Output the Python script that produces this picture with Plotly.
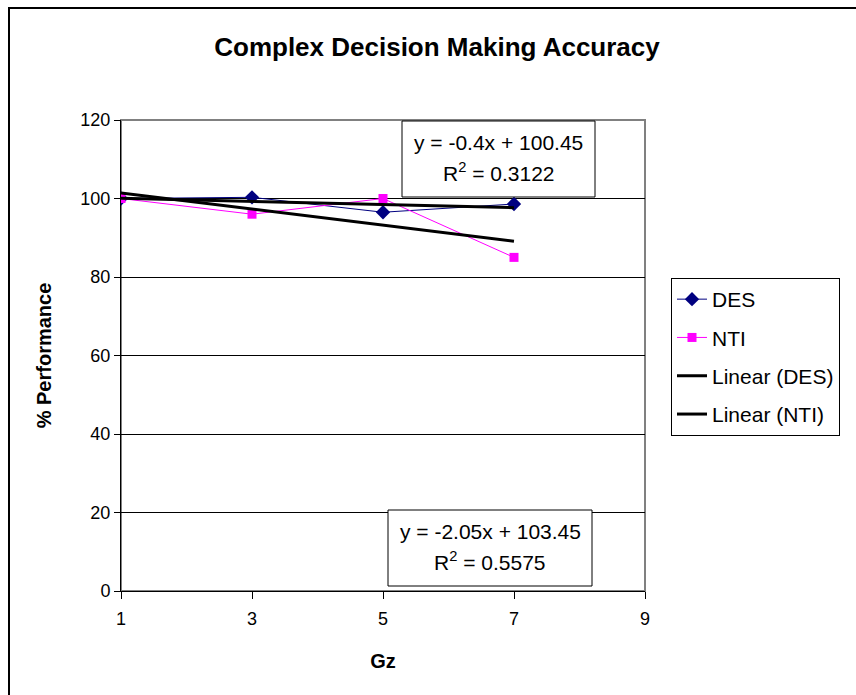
import plotly.graph_objects as go

# G-level conditions and accuracy scores
gz = [1, 3, 5, 7]
des = [100, 100.3, 96.5, 98.6]
nti = [100, 96, 100, 85]

# Linear trend coefficients (slope, intercept, R^2)
des_fit = [-0.4, 100.45, 0.3122]
nti_fit = [-2.05, 103.45, 0.5575]

x_ticks = [1, 3, 5, 7, 9]
y_ticks = [0, 20, 40, 60, 80, 100, 120]

FONT = "Liberation Sans, Arial, sans-serif"

# page geometry (pixels)
W, H = 856, 695
L, R, T, B = 121, 645, 120, 591


def px(xp):
    return (xp - L) / (R - L)


def py(yp):
    return (B - yp) / (B - T)


def trend(fit):
    xs = [gz[0], gz[-1]]
    return xs, [fit[0] * x + fit[1] for x in xs]


def eq_text(fit):
    sign = "+" if fit[1] >= 0 else "-"
    return f"y = {fit[0]:g}x {sign} {abs(fit[1]):g}"


fig = go.Figure()

fig.add_trace(go.Scatter(
    x=gz, y=des, name="DES", mode="lines+markers",
    line=dict(color="#000080", width=1),
    marker=dict(symbol="diamond", size=11, color="#000080"),
    legendgroup="a",
))
fig.add_trace(go.Scatter(
    x=gz, y=nti, name="NTI", mode="lines+markers",
    line=dict(color="#FF00FF", width=1),
    marker=dict(symbol="square", size=9, color="#FF00FF"),
    legendgroup="b",
))
tx, ty = trend(des_fit)
fig.add_trace(go.Scatter(
    x=tx, y=ty, name="Linear (DES)", mode="lines",
    line=dict(color="black", width=3), legendgroup="c",
))
tx, ty = trend(nti_fit)
fig.add_trace(go.Scatter(
    x=tx, y=ty, name="Linear (NTI)", mode="lines",
    line=dict(color="black", width=3), legendgroup="d",
))

shapes = [
    # chart frame
    dict(type="rect", xref="paper", yref="paper",
         x0=px(9), x1=px(870), y0=py(705), y1=py(8),
         line=dict(color="black", width=2), fillcolor="rgba(0,0,0,0)",
         layer="below"),
    # plot area border
    dict(type="rect", xref="paper", yref="paper",
         x0=0, x1=1, y0=0, y1=1,
         line=dict(color="#808080", width=2), fillcolor="rgba(0,0,0,0)",
         layer="below"),
]

annotations = []


def eq_box(fit, x0, x1, y0, y1):
    shapes.append(dict(type="rect", xref="paper", yref="paper",
                       x0=px(x0), x1=px(x1), y0=py(y1), y1=py(y0),
                       line=dict(color="black", width=1), fillcolor="white",
                       layer="above"))
    cx = px((x0 + x1) / 2)
    h = y1 - y0
    annotations.append(dict(xref="paper", yref="paper", x=cx, y=py(y0 + h * 0.28),
                            text=eq_text(fit), showarrow=False,
                            font=dict(family=FONT, size=21, color="black"),
                            xanchor="center", yanchor="middle"))
    annotations.append(dict(xref="paper", yref="paper", x=cx, y=py(y0 + h * 0.67),
                            text=f"R<sup>2</sup> = {fit[2]:g}", showarrow=False,
                            font=dict(family=FONT, size=21, color="black"),
                            xanchor="center", yanchor="middle"))


eq_box(des_fit, 402, 595, 121, 197)
eq_box(nti_fit, 388, 592, 510, 586)

fig.update_layout(
    width=W, height=H,
    margin=dict(l=L, r=W - R, t=T, b=H - B, pad=0),
    paper_bgcolor="white", plot_bgcolor="white",
    font=dict(family=FONT, size=18, color="black"),
    title=dict(text="<b>Complex Decision Making Accuracy</b>",
               x=437 / W, xref="container", xanchor="center",
               y=1 - 47 / H, yref="container", yanchor="middle",
               font=dict(family=FONT, size=26, color="black")),
    showlegend=True,
    legend=dict(x=px(671), y=py(278), xanchor="left", yanchor="top",
                bordercolor="black", borderwidth=1, bgcolor="white",
                font=dict(family=FONT, size=21, color="black"),
                traceorder="grouped", tracegroupgap=8,
                itemwidth=30),
    shapes=shapes,
    annotations=annotations,
)

fig.update_xaxes(
    range=[1, 9], tickvals=x_ticks, ticktext=[str(v) for v in x_ticks],
    showgrid=False, zeroline=False,
    showline=True, linecolor="black", linewidth=1,
    ticks="outside", ticklen=7, tickcolor="black", tickwidth=1,
    ticklabelstandoff=4,
    tickfont=dict(family=FONT, size=18, color="black"),
    title=dict(text="<b>Gz</b>", font=dict(family=FONT, size=20, color="black"),
               standoff=26),
)
fig.update_yaxes(
    range=[0, 120], tickvals=y_ticks, ticktext=[str(v) for v in y_ticks],
    showgrid=True, gridcolor="black", gridwidth=1, zeroline=False,
    showline=True, linecolor="black", linewidth=1,
    ticks="outside", ticklen=6, tickcolor="black", tickwidth=1,
    tickfont=dict(family=FONT, size=18, color="black"),
    title=dict(text="<b>% Performance</b>", font=dict(family=FONT, size=20, color="black"),
               standoff=23),
)

fig.write_html("out.html")
